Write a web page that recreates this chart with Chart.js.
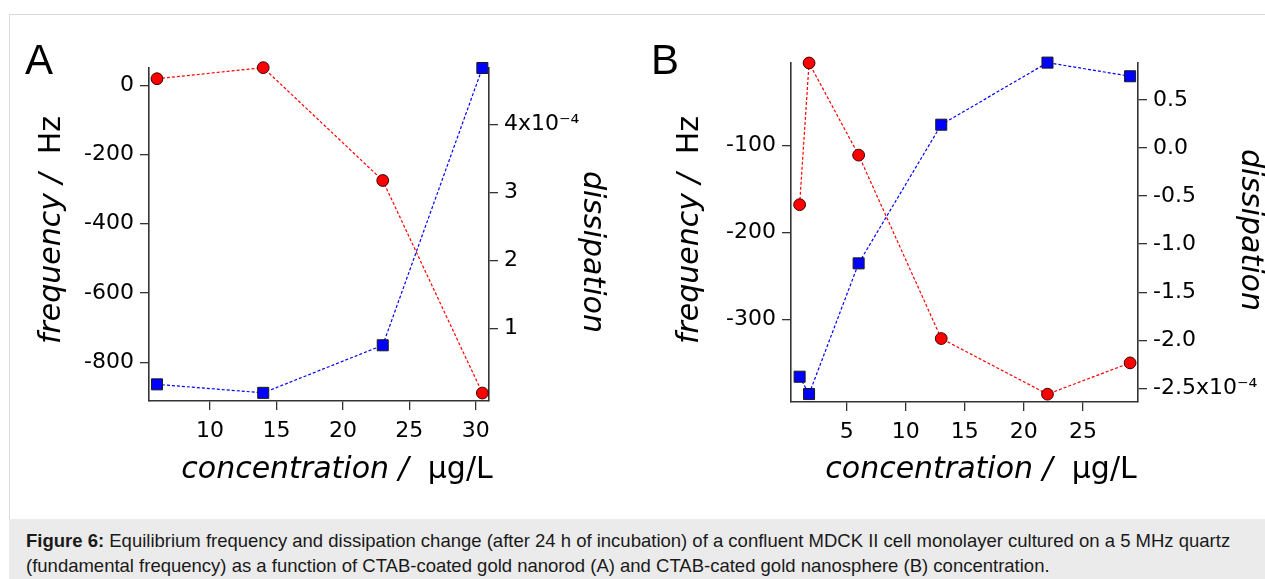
<!DOCTYPE html>
<html><head><meta charset="utf-8">
<script src="https://cdn.jsdelivr.net/npm/chart.js@4.4.1/dist/chart.umd.min.js"></script>
<style>
html,body{margin:0;padding:0;background:#fff;width:1265px;height:579px;overflow:hidden;position:relative;}
#frame{position:absolute;left:9px;top:14px;width:1300px;height:600px;border-left:1px solid #dadada;border-top:1px solid #dadada;}
#caption{position:absolute;left:9px;top:519px;width:1256px;height:60px;background:#ebebeb;font-family:"Liberation Sans",Arial,sans-serif;font-size:18.5px;line-height:25px;color:#1a1a1a;}
#caption .txt{position:absolute;left:17px;top:9px;white-space:nowrap;}
.panel{position:absolute;font-family:"Liberation Sans",Arial,sans-serif;font-size:42px;line-height:42px;color:#000;}
canvas{position:absolute;top:0;}
</style></head><body>
<div id="frame"></div>
<canvas id="cA" width="620" height="519" style="left:0"></canvas>
<canvas id="cB" width="645" height="519" style="left:620px"></canvas>
<div class="panel" style="left:25px;top:39px">A</div>
<div class="panel" style="left:651px;top:39px">B</div>
<div id="caption"><div class="txt"><b>Figure 6:</b> Equilibrium frequency and dissipation change (after 24 h of incubation) of a confluent MDCK II cell monolayer cultured on a 5 MHz quartz<br>(fundamental frequency) as a function of CTAB-coated gold nanorod (A) and CTAB-cated gold nanosphere (B) concentration.</div></div>
<script>
// ---- data (dissipation in units of 1e-4) ----
const concA = [6, 14, 23, 30.5];
const freqA = [19, 51, -275, -889];
const dissA = [0.175, 0.05, 0.75, 4.83];

const concB = [1, 1.8, 6, 13, 22, 29];
const freqB = [-168, -5, -111, -322, -386, -350];
const dissB = [-2.38, -2.56, -1.2, 0.243, 0.889, 0.747];

// ---- tick values ----
const xTicksA = [10, 15, 20, 25, 30];
const freqTicksA = [0, -200, -400, -600, -800];
const dissTicksA = [1, 2, 3, 4];
const xTicksB = [5, 10, 15, 20, 25];
const freqTicksB = [-100, -200, -300];
const dissTicksB = [0.5, 0, -0.5, -1, -1.5, -2, -2.5];

// ---- axis ranges ----
const xRangeA = [5.4, 31.0], freqRangeA = [-912, 50], dissRangeA = [-0.07, 4.83];
const xRangeB = [0.27, 29.67], freqRangeB = [-395, -5], dissRangeB = [-2.643, 0.885];

// ---- text ----
const xTitle = [['concentration / ', true], [' \u00b5g/L', false]];
const yTitle = [['frequency / ', true], [' Hz', false]];
const y2Title = [['dissipation', true]];
const SUP = 'x10\u207b\u2074';

const FONT = '"DejaVu Sans", "Bitstream Vera Sans", sans-serif';

const richTitles = {
  id: 'richTitles',
  afterDraw(chart, args, opts) {
    const ctx = chart.ctx;
    (opts.items || []).forEach(it => {
      ctx.save();
      ctx.translate(it.x, it.y);
      ctx.rotate(it.rot);
      ctx.fillStyle = '#000';
      ctx.textBaseline = 'alphabetic';
      ctx.textAlign = 'left';
      let total = 0;
      const widths = it.parts.map(p => {
        ctx.font = (p[1] ? 'italic ' : '') + it.size + 'px ' + FONT;
        const w = ctx.measureText(p[0]).width; total += w; return w;
      });
      let cx = -total / 2;
      it.parts.forEach((p, i) => {
        ctx.font = (p[1] ? 'italic ' : '') + it.size + 'px ' + FONT;
        ctx.fillText(p[0], cx, 0);
        cx += widths[i];
      });
      ctx.restore();
    });
  }
};

function axis(pos, range, ticks, size, fmt) {
  const horizontal = pos === 'bottom';
  return {
    type: 'linear', position: pos, min: range[0], max: range[1],
    afterBuildTicks: s => { s.ticks = ticks.map(v => ({ value: v })); },
    afterFit: s => {
      if (horizontal) s.height = size; else s.width = size;
      s.paddingLeft = s.paddingRight = s.paddingTop = s.paddingBottom = 0;
    },
    grid: { drawOnChartArea: false, drawTicks: true, tickLength: 9, color: '#333', lineWidth: 1.3 },
    border: { display: true, color: '#333', width: 1.6 },
    ticks: {
      font: { family: FONT, size: 22 }, color: '#000', padding: horizontal ? 8 : 6,
      maxRotation: 0, minRotation: 0, autoSkip: false, includeBounds: false,
      callback: fmt || (v => String(v))
    }
  };
}

function series(xs, ys, axisId, color, style, radius, edge) {
  return {
    data: xs.map((x, i) => ({ x: x, y: ys[i] })),
    yAxisID: axisId,
    borderColor: color, borderWidth: 1.2, borderDash: [3, 2],
    backgroundColor: color,
    pointStyle: style, pointRadius: radius, pointHoverRadius: radius,
    pointBackgroundColor: color, pointBorderColor: edge, pointBorderWidth: 1,
    showLine: true, tension: 0, clip: false
  };
}

function build(id, cfg) {
  return new Chart(document.getElementById(id), {
    type: 'scatter',
    data: { datasets: [
      series(cfg.x, cfg.diss, 'y2', '#0000ff', 'rect', 7.8, '#1a1a1a'),
      series(cfg.x, cfg.freq, 'y', '#ff0000', 'circle', 5.9, '#3a0000')
    ] },
    options: {
      responsive: false, animation: false, devicePixelRatio: 1,
      layout: { padding: { top: cfg.top, left: 0, right: 0, bottom: 0 } },
      plugins: { legend: { display: false }, tooltip: { enabled: false }, richTitles: { items: cfg.titles } },
      scales: {
        x: axis('bottom', cfg.xr, cfg.xt, cfg.bottomH),
        y: axis('left', cfg.fr, cfg.ft, cfg.leftW),
        y2: axis('right', cfg.dr, cfg.dt, cfg.rightW, cfg.dfmt)
      }
    },
    plugins: [richTitles]
  });
}

build('cA', {
  x: concA, freq: freqA, diss: dissA,
  xr: xRangeA, fr: freqRangeA, dr: dissRangeA,
  xt: xTicksA, ft: freqTicksA, dt: dissTicksA,
  top: 68, bottomH: 118, leftW: 149, rightW: 131,
  dfmt: v => v === 4 ? '4' + SUP : String(v),
  titles: [
    { parts: yTitle, x: 60, y: 230, rot: -Math.PI / 2, size: 30 },
    { parts: y2Title, x: 584, y: 252, rot: Math.PI / 2, size: 30 },
    { parts: xTitle, x: 337, y: 478, rot: 0, size: 30 }
  ]
});

build('cB', {
  x: concB, freq: freqB, diss: dissB,
  xr: xRangeB, fr: freqRangeB, dr: dissRangeB,
  xt: xTicksB, ft: freqTicksB, dt: dissTicksB,
  top: 63, bottomH: 117, leftW: 171, rightW: 127,
  dfmt: v => { const s = v.toFixed(1); return Math.abs(v + 2.5) < 1e-9 ? s + SUP : s; },
  titles: [
    { parts: yTitle, x: 78, y: 230, rot: -Math.PI / 2, size: 30 },
    { parts: y2Title, x: 622, y: 230, rot: Math.PI / 2, size: 30 },
    { parts: xTitle, x: 361, y: 478, rot: 0, size: 30 }
  ]
});
</script>
</body></html>
